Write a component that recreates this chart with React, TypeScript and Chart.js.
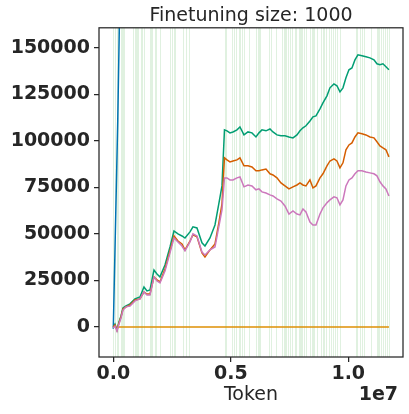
import React, { useEffect, useRef } from "react";
import { Chart, registerables } from "chart.js";
Chart.register(...registerables);

const TITLE = "Finetuning size: 1000";
const X_LABEL = "Token";
const X_OFFSET_LABEL = "1e7";

const X_TICKS = [0, 5000000, 10000000];
const Y_TICKS = [0, 25000, 50000, 75000, 100000, 125000, 150000];

const TOKENS = [
  0, 72000, 157000, 243000, 328000, 413000, 540000, 711000, 923000, 1136000,
  1306000, 1434000, 1562000, 1732000, 1860000, 1987000, 2200000, 2413000, 2583000, 2753000,
  2923000, 3051000, 3264000, 3391000, 3562000, 3774000, 3902000, 4115000, 4328000, 4498000,
  4626000, 4732000, 4838000, 4966000, 5094000, 5264000, 5391000, 5562000, 5732000, 5902000,
  6072000, 6200000, 6328000, 6498000, 6668000, 6796000, 6966000, 7136000, 7306000, 7477000,
  7647000, 7817000, 7945000, 8072000, 8200000, 8370000, 8498000, 8626000, 8796000, 8923000,
  9094000, 9221000, 9391000, 9519000, 9647000, 9775000, 9902000, 10030000, 10157000, 10285000,
  10413000, 10583000, 10753000, 10923000, 11094000, 11221000, 11349000, 11477000, 11604000, 11732000,
];

const GREEN = [
  0, 1600, -1600, 2700, 5900, 10200, 11300, 12400, 15100, 16100,
  21500, 19400, 19900, 30600, 28500, 26900, 33300, 43000, 51600, 50000,
  48900, 47800, 51100, 53800, 53200, 45200, 43500, 47800, 54800, 66700,
  75800, 105900, 105400, 104300, 104800, 105900, 107500, 103200, 104800, 104300,
  102100, 104300, 105900, 105400, 106400, 104800, 103200, 102700, 102700, 102100,
  101600, 103200, 105400, 107000, 108100, 110700, 112900, 113400, 117200, 120400,
  124200, 128500, 130600, 129600, 126300, 128500, 133900, 138200, 139200, 143500,
  146200, 145700, 145200, 144600, 143500, 141400, 140900, 141400, 139800, 138200,
];

const VERMILION = [
  0, 1100, -1600, 2200, 5400, 9700, 10800, 11800, 14500, 15100,
  18800, 17700, 17700, 26900, 25300, 24200, 31200, 40900, 48900, 46200,
  44600, 41400, 46200, 49500, 48400, 39800, 37600, 41400, 44600, 56400,
  66100, 90900, 89800, 88700, 89200, 89800, 90900, 86600, 86600, 86000,
  83900, 83900, 84400, 84900, 82300, 81700, 80100, 77400, 75800, 74200,
  75300, 76300, 77400, 76300, 75800, 79000, 74700, 75800, 80100, 82300,
  86600, 89200, 90300, 89200, 85500, 88200, 95200, 97800, 98900, 102100,
  104300, 103800, 103200, 102100, 101600, 99500, 97300, 96200, 95200, 91400,
];

const PINK = [
  -500, 500, -2200, 1600, 4800, 9100, 10800, 11300, 14000, 15100,
  18800, 17200, 17200, 26900, 24700, 23700, 30100, 39800, 47800, 45700,
  43500, 40900, 45700, 50000, 48900, 40300, 38700, 41400, 43000, 54300,
  62900, 80100, 80100, 79000, 79000, 80100, 80600, 75300, 76300, 75800,
  73700, 74200, 72600, 72000, 71000, 70400, 68800, 67700, 65000, 60700,
  62400, 60700, 60200, 63400, 61800, 56400, 54800, 54800, 60700, 64000,
  66700, 68300, 69900, 69400, 65600, 68300, 75800, 79000, 80100, 82300,
  83900, 83900, 83300, 82800, 82300, 81200, 78000, 75800, 74200, 70400,
];

const BLUE_TOKENS = [0, 190000, 330000];
const BLUE = [-1000, 111000, 215000];

const ORANGE_TOKENS = [213000, 11732000];
const ORANGE = [0, 0];

const VLINES = [
  0, 60000, 170000, 213000, 328000, 370000, 413000, 455000, 851000, 911000,
  966000, 1009000, 1051000, 1179000, 1221000, 1306000, 1562000, 1617000, 1660000, 1762000,
  1804000, 1987000, 2413000, 2498000, 2583000, 2638000, 2953000, 3106000, 3221000, 4753000,
  4809000, 5064000, 5149000, 5209000, 5349000, 5404000, 5464000, 5549000, 5774000, 6085000,
  6145000, 6200000, 6255000, 6638000, 6698000, 6936000, 7179000, 7251000, 7306000, 7362000,
  7447000, 7519000, 7617000, 7719000, 7787000, 7889000, 7945000, 7987000, 8043000, 8128000,
  8187000, 8383000, 8442000, 8485000, 8540000, 8668000, 8838000, 8936000, 8979000, 9064000,
  9166000, 9264000, 9349000, 9421000, 9506000, 9647000, 10328000, 10383000, 10498000, 10570000,
  10655000, 10953000, 11221000, 11276000, 11319000, 11378000, 11464000, 11574000, 11659000, 11719000,
];

const FONT = "'DejaVu Sans', sans-serif";
const INK = "#262626";

function pts(xs: number[], ys: number[]) {
  return xs.map((x, i) => ({ x, y: ys[i] }));
}

const framePlugin = {
  id: "frameAndVlines",
  beforeDatasetsDraw(chart: any) {
    const { ctx, chartArea, scales } = chart;
    ctx.save();
    ctx.beginPath();
    ctx.rect(chartArea.left, chartArea.top, chartArea.right - chartArea.left, chartArea.bottom - chartArea.top);
    ctx.clip();
    ctx.strokeStyle = "rgba(44,160,44,0.15)";
    ctx.lineWidth = 1;
    for (const v of VLINES) {
      const px = Math.round(scales.x.getPixelForValue(v)) + 0.5;
      ctx.beginPath();
      ctx.moveTo(px, chartArea.top);
      ctx.lineTo(px, chartArea.bottom);
      ctx.stroke();
    }
    ctx.restore();
  },
  afterDatasetsDraw(chart: any) {
    const { ctx, chartArea } = chart;
    ctx.save();
    ctx.strokeStyle = INK;
    ctx.lineWidth = 1.25;
    ctx.strokeRect(chartArea.left, chartArea.top, chartArea.right - chartArea.left, chartArea.bottom - chartArea.top);
    ctx.restore();
  },
  afterDraw(chart: any) {
    const { ctx, chartArea } = chart;
    ctx.save();
    ctx.fillStyle = INK;
    ctx.font = `bold 19px ${FONT}`;
    ctx.textAlign = "right";
    ctx.textBaseline = "middle";
    ctx.fillText(X_OFFSET_LABEL, chartArea.right - 5, 395);
    ctx.restore();
  },
};

export default function App() {
  const ref = useRef<HTMLCanvasElement | null>(null);
  useEffect(() => {
    if (!ref.current) return;
    const lw = 1.5;
    const common = { pointRadius: 0, borderWidth: lw, tension: 0, fill: false };
    const chart = new Chart(ref.current, {
      type: "line",
      data: {
        datasets: [
          { ...common, data: pts(BLUE_TOKENS, BLUE), borderColor: "#0173b2", order: 5 },
          { ...common, data: pts(ORANGE_TOKENS, ORANGE), borderColor: "#de8f05", order: 4 },
          { ...common, data: pts(TOKENS, GREEN), borderColor: "#029e73", order: 3 },
          { ...common, data: pts(TOKENS, VERMILION), borderColor: "#d55e00", order: 2 },
          { ...common, data: pts(TOKENS, PINK), borderColor: "#cc78bc", order: 1 },
        ],
      },
      options: {
        animation: false,
        responsive: false,
        maintainAspectRatio: false,
        parsing: false,
        layout: { padding: { left: 0, right: 6, top: 0, bottom: 0 } },
        plugins: {
          legend: { display: false },
          tooltip: { enabled: false },
          title: {
            display: true,
            text: TITLE,
            fullSize: false,
            color: INK,
            font: { family: FONT, size: 19, weight: "normal" },
            padding: { top: 5, bottom: 0 },
          },
        },
        scales: {
          x: {
            type: "linear",
            min: -608000,
            max: 12330000,
            afterBuildTicks: (s: any) => {
              s.ticks = X_TICKS.map((v) => ({ value: v }));
            },
            afterFit: (s: any) => {
              s.height = 57;
            },
            ticks: {
              autoSkip: false,
              maxRotation: 0,
              padding: 1,
              color: INK,
              font: { family: FONT, size: 19, weight: "bold" },
              callback: (v: any) => (Number(v) / 1e7).toFixed(1),
            },
            grid: { drawOnChartArea: false, drawTicks: true, tickLength: 5, color: INK, lineWidth: 1.25 },
            border: { display: false },
            title: {
              display: true,
              text: X_LABEL,
              color: INK,
              font: { family: FONT, size: 19, weight: "normal" },
              padding: { top: 0, bottom: 7.6 },
            },
          },
          y: {
            type: "linear",
            min: -16130,
            max: 160750,
            afterBuildTicks: (s: any) => {
              s.ticks = Y_TICKS.map((v) => ({ value: v }));
            },
            afterFit: (s: any) => {
              s.width = 99;
            },
            ticks: {
              autoSkip: false,
              padding: 4,
              color: INK,
              font: { family: FONT, size: 19, weight: "bold" },
              callback: (v: any) => String(v),
            },
            grid: { drawOnChartArea: false, drawTicks: true, tickLength: 5, color: INK, lineWidth: 1.25 },
            border: { display: false },
          },
        },
      },
      plugins: [framePlugin],
    } as any);
    return () => chart.destroy();
  }, []);
  return (
    <div style={{ position: "fixed", left: 0, top: 0, width: 409, height: 414, background: "#fff" }}>
      <canvas ref={ref} width={409} height={414} style={{ width: 409, height: 414, display: "block" }} />
    </div>
  );
}
